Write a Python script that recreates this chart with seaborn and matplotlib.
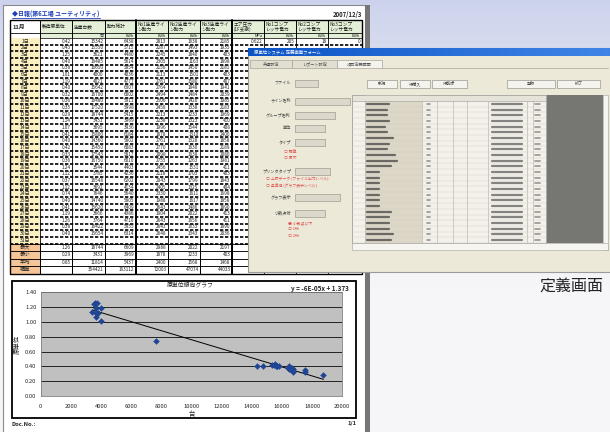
import numpy as np
import pandas as pd
import matplotlib
matplotlib.use('Agg')
import matplotlib.pyplot as plt
import seaborn as sns
from matplotlib.patches import Rectangle

# ---- daily report data (November) ----
days = [f'{d}日' for d in range(1, 32)]
gentan = [0.42, 0.43, 1.25, 0.40, 0.38, 1.01, 1.19, 0.40, 0.32, 0.36, 0.35, 0.29, 1.14, 1.07, 0.41, 0.40,
          0.42, 0.33, 0.36, 1.24, 1.12, 0.37, 1.12, 0.74, 0.40, 0.41, 1.19, 1.26, 0.38, 0.40, None]
daisu = [15342, 15550, 3621, 16485, 16650, 4000, 4021, 15642, 16700, 16480, 17520, 18744, 3431, 3695, 15800, 14360,
         15450, 17543, 16750, 3544, 3785, 16548, 3692, 7646, 14740, 15620, 3666, 3764, 16422, 15654, None]
douryoku = [6438, 5715, 4480, 5614, 5854, 4036, 4777, 6307, 6002, 5911, 5998, 5415, 3969, 3936, 6184, 5802,
            6083, 5817, 6010, 4403, 4236, 6202, 4134, 5640, 5805, 6409, 4386, 4710, 5955, 6314, None]
line1 = [2813, 2287, 2245, 2305, 2156, 2113, 2761, 2764, 2494, 2506, 2458, 2213, 2238, 1996, 1878, 2761,
         2770, 2098, 2755, 2456, 2118, 2943, 2405, 2330, 1988, 2643, 1904, 2643, 2643, 2648, None]
line2 = [1638, 1493, 1840, 1163, 1450, 1501, 1580, 1848, 1484, 1420, 1338, 1233, 1323, 1544, 1310, 1328,
         1630, 1638, 1263, 1531, 1703, 1799, 1325, 1611, 1617, 1486, 2022, 1656, 1633, 1343, None]
line3 = [2185, 1935, 403, 1898, 2181, 403, 407, 1941, 2039, 1985, 2183, 1969, 410, 408, 2400, 1858,
         2189, 2080, 1981, 411, 403, 1843, 404, 1698, 1858, 1890, 413, 411, 1890, 2036, None]
# columns mostly hidden behind the dialog, only first row visible
extra_first_row = ['0.622', '205', '18', '0']

summary_labels = ['最大', '最小', '平均', '積算']
summary_vals = [['1.26', '18744', '6609', '2988', '2022', '2197'],
                ['0.29', '3431', '3969', '1878', '1233', '403'],
                ['0.85', '11814', '5437', '2400', '1568', '1468'],
                ['', '354421', '163112', '72003', '47074', '44033']]

headers = ['11月', '製造原単位', '生産台数', '動力総計', 'No1生産ライ\nン動力', 'No2生産ライ\nン動力',
           'No3生産ライ\nン動力', 'エア圧力\n(1F支援)', 'No1コンプ\nレッサ電力', 'No2コンプ\nレッサ電力', 'No3コンプ\nレッサ電力']
units = ['', '', '台', 'kWh', 'kWh', 'kWh', 'kWh', 'MPa', 'kWh', 'kWh', 'kWh']

eq_text = 'y = -6E-05x + 1.373'

sns.set_style('white')
plt.rcParams['font.family'] = ['Noto Sans CJK JP', 'DejaVu Sans']

fig = plt.figure(figsize=(6.1, 4.32), dpi=100)
bg = fig.add_axes([0, 0, 1, 1])
bg.set_xlim(0, 610)
bg.set_ylim(432, 0)
bg.axis('off')

# background gradient
grad = np.linspace(0, 1, 200).reshape(-1, 1)
top = np.array([0.80, 0.825, 0.925])
bot = np.array([0.965, 0.965, 0.975])
img = top + (bot - top) * np.clip(grad * 1.5, 0, 1)[:, :, None] ** 0.8
bg.imshow(img.reshape(200, 1, 3), extent=(0, 610, 432, 0), aspect='auto', zorder=0)

# page
bg.add_patch(Rectangle((3, 5), 362, 430, fc='white', ec='#8a8a8a', lw=0.8, zorder=1))
bg.add_patch(Rectangle((365, 5), 5, 430, fc='#767676', ec='none', zorder=1))
bg.text(12, 14, '◆日報(第6工場 ユーティリティ)', fontsize=4.3, color='#1f3fb8', fontweight='bold', va='center', zorder=2)
bg.plot([12, 100], [17.5, 17.5], color='#1f3fb8', lw=0.6, zorder=2)
bg.text(362, 14, '2007/12/3', fontsize=4.3, fontweight='bold', ha='right', va='center', zorder=2)

# table
cx = [10, 40, 72, 105, 136, 168, 200, 232, 264, 296, 328, 362]
h_top, h_mid, h_bot = 20, 33, 38
row_h = 6.63
sum_top = h_bot + 31 * row_h
sum_h = 7.5
for i in range(len(cx) - 1):
    fc = 'white' if i == 0 else '#e4efd7'
    bg.add_patch(Rectangle((cx[i], h_top), cx[i + 1] - cx[i], h_mid - h_top, fc=fc, ec='black', lw=0.5, zorder=2))
    bg.add_patch(Rectangle((cx[i], h_mid), cx[i + 1] - cx[i], h_bot - h_mid, fc=fc, ec='black', lw=0.5, zorder=2))
    if i == 0:
        bg.text(13, 27, headers[i], fontsize=4.2, fontweight='bold', va='center', zorder=3)
    else:
        bg.text(cx[i] + 1.5, 26.5, headers[i], fontsize=3.4, va='center', linespacing=1.0, zorder=3)
        bg.text(cx[i + 1] - 1.5, 35.7, units[i], fontsize=3.0, ha='right', va='center', zorder=3)

bg.add_patch(Rectangle((cx[0], h_bot), cx[1] - cx[0], 31 * row_h, fc='#fbf0c1', ec='none', zorder=2))
cols = [gentan, daisu, douryoku, line1, line2, line3]
for r in range(31):
    yc = h_bot + (r + 0.5) * row_h
    bg.text((cx[0] + cx[1]) / 2, yc, days[r], fontsize=3.6, ha='center', va='center', zorder=3)
    for j, col in enumerate(cols):
        v = col[r]
        if v is None:
            continue
        s = f'{v:.2f}' if j == 0 else f'{v:d}'
        bg.text(cx[j + 2] - 1.5, yc, s, fontsize=3.4, ha='right', va='center', zorder=3)
    if r == 0:
        for j, s in enumerate(extra_first_row):
            bg.text(cx[j + 8] - 1.5, yc, s, fontsize=3.4, ha='right', va='center', zorder=3)
    ylin = h_bot + (r + 1) * row_h
    bg.plot([cx[0], cx[-1]], [ylin, ylin], color='black', lw=1.2, ls=(0, (2, 1)), zorder=3)

for k, lab in enumerate(summary_labels):
    y0 = sum_top + k * sum_h
    bg.add_patch(Rectangle((cx[0], y0), cx[1] - cx[0], sum_h, fc='#f6c597', ec='black', lw=0.6, zorder=2))
    bg.text((cx[0] + cx[1]) / 2, y0 + sum_h / 2, lab, fontsize=3.8, ha='center', va='center', zorder=3)
    for j, s in enumerate(summary_vals[k]):
        bg.add_patch(Rectangle((cx[j + 1], y0), cx[j + 2] - cx[j + 1], sum_h, fc='white', ec='black', lw=0.6, zorder=2))
        bg.text(cx[j + 2] - 1.5, y0 + sum_h / 2, s, fontsize=3.4, ha='right', va='center', zorder=3)
    bg.add_patch(Rectangle((cx[7], y0), cx[-1] - cx[7], sum_h, fc='white', ec='black', lw=0.6, zorder=2))

for i, x in enumerate(cx):
    lw = 1.4 if x in (136, 232) else 0.6
    bg.plot([x, x], [h_top, sum_top + 4 * sum_h], color='black', lw=lw, zorder=3)
bg.add_patch(Rectangle((cx[0], h_top), cx[-1] - cx[0], sum_top + 4 * sum_h - h_top, fc='none', ec='black', lw=1.0, zorder=3))

# ---- dialog window (definition screen) ----
z = 10
bg.add_patch(Rectangle((248, 48), 370, 224, fc='#ece9d8', ec='#9a9a9a', lw=0.8, zorder=z))
tb = np.linspace(0, 1, 50).reshape(1, -1)
bar = np.array([0.05, 0.33, 0.78]) + (np.array([0.25, 0.52, 0.90]) - np.array([0.05, 0.33, 0.78])) * tb[:, :, None]
bg.imshow(bar, extent=(248, 610, 56, 48), aspect='auto', zorder=z + 1)
bg.text(254, 52, '原単位システム 定義画面フォーム', fontsize=3.2, color='white', va='center', zorder=z + 2)
tabs = [(250, 292, '共通設定'), (292, 337, 'レポート設定'), (337, 382, '項目定義画面')]
for x0, x1, t in tabs:
    fc = '#f4f3ee' if t == '項目定義画面' else '#e2dfd0'
    bg.add_patch(Rectangle((x0, 60), x1 - x0, 8, fc=fc, ec='#a8a59a', lw=0.5, zorder=z + 1))
    bg.text((x0 + x1) / 2, 64, t, fontsize=3.0, color='#555555', ha='center', va='center', zorder=z + 2)
bg.plot([382, 608], [68, 68], color='#a8a59a', lw=0.5, zorder=z + 1)
for x0, x1, t in [(367, 397, '新規'), (400, 430, '行挿入'), (432, 467, '行削除'), (507, 555, '登録'), (557, 600, '終了')]:
    bg.add_patch(Rectangle((x0, 80), x1 - x0, 8, fc='#f4f3ee', ec='#9a9890', lw=0.5, zorder=z + 1))
    bg.text((x0 + x1) / 2, 84, t, fontsize=3.0, color='#444444', ha='center', va='center', zorder=z + 2)

fields = [(83, 'ファイル', 23), (101, 'ライン名称', 55), (115, 'グループ名称', 40), (128, '単位', 30),
          (142, 'タイプ', 30), (171, 'プリンタタイプ', 35), (197, 'グラフ表示', 45), (213, '小数点桁', 30)]
for y, lab, w in fields:
    bg.text(291, y, lab, fontsize=3.0, color='#444444', ha='right', va='center', zorder=z + 2)
    bg.add_patch(Rectangle((295, y - 3.5), w, 7, fc='#dcd8cc', ec='#a09c90', lw=0.5, zorder=z + 1))
red_opts = [(284, 152, '○ 積算'), (284, 158, '○ 最大'), (266, 179, '○ 上限データ (ファイル出力レベル)'),
            (266, 186, '○ 基準値 (グラフ表示レベル)'), (288, 223, '● 小数点以下'), (288, 229, '○ 1桁'), (288, 236, '○ 2桁')]
for x, y, t in red_opts:
    bg.text(x, y, t, fontsize=2.8, color='#e05050', va='center', zorder=z + 2)

# list grid
lx0, lx1, ly0, ly1 = 352, 546, 95, 243
bg.add_patch(Rectangle((lx0, ly0), lx1 - lx0, ly1 - ly0, fc='#f3f1ea', ec='#8a8a8a', lw=0.5, zorder=z + 1))
bg.add_patch(Rectangle((365, ly0), 57, ly1 - ly0, fc='#ddd7c8', ec='none', zorder=z + 1))
gx = [352, 365, 422, 437, 453, 467, 488, 527, 533, 546]
for x in gx:
    bg.plot([x, x], [ly0, ly1], color='#b0aca0', lw=0.4, zorder=z + 2)
n_rows = 25
rh = (ly1 - ly0 - 6) / n_rows
bg.add_patch(Rectangle((lx0, ly0), lx1 - lx0, 6, fc='#e6e3d8', ec='#9a9a9a', lw=0.4, zorder=z + 2))
name_w = [22, 20, 20, 22, 18, 20, 26, 22, 20, 28, 30, 24, 12, 12, 12, 12, 12, 12, 12, 24, 22, 22, 22, 26, 24]
for r in range(n_rows):
    yc = ly0 + 6 + (r + 0.5) * rh
    bg.plot([lx0, lx1], [yc + rh / 2, yc + rh / 2], color='#cfcbbf', lw=0.3, zorder=z + 2)
    bg.plot([367, 367 + name_w[r]], [yc, yc], color='#3a3a3a', lw=1.6, alpha=0.7, zorder=z + 3)
    bg.plot([492, 522], [yc, yc], color='#3a3a3a', lw=1.6, alpha=0.6, zorder=z + 3)
    bg.plot([427, 430], [yc, yc], color='#3a3a3a', lw=1.2, alpha=0.5, zorder=z + 3)
    bg.plot([535, 540], [yc, yc], color='#3a3a3a', lw=1.2, alpha=0.5, zorder=z + 3)
bg.add_patch(Rectangle((547, ly0), 56, ly1 - ly0, fc='#767673', ec='none', zorder=z + 1))
bg.add_patch(Rectangle((603, ly0), 5, ly1 - ly0 + 7, fc='#f6f5f0', ec='#a0a0a0', lw=0.4, zorder=z + 1))
bg.add_patch(Rectangle((lx0, ly1), 256, 7, fc='#f6f5f0', ec='#a0a0a0', lw=0.4, zorder=z + 1))

bg.text(603, 286, '定義画面', fontsize=11.5, color='#222222', ha='right', va='center', zorder=z)

# ---- chart frame on the page ----
bg.add_patch(Rectangle((12, 280.5), 344, 137, fc='white', ec='black', lw=1.3, zorder=2))
bg.text(190, 285, '原単位傾向グラフ', fontsize=4.2, ha='center', va='center', zorder=3)
bg.text(349, 289, eq_text, fontsize=4.6, fontweight='bold', ha='right', va='center', zorder=3)
bg.text(12, 424, 'Doc.No.:', fontsize=4.2, fontweight='bold', va='center', zorder=3)
bg.text(357, 424, '1/1', fontsize=4.2, fontweight='bold', ha='right', va='center', zorder=3)

# ---- scatter with trendline ----
df = pd.DataFrame({'台': daisu, '原単位': gentan}).dropna()
ax = fig.add_axes([40.7 / 610, 36 / 432, 301.6 / 610, 103.7 / 432])
ax.set_facecolor('#c0c0c0')
sns.scatterplot(data=df, x='台', y='原単位', ax=ax, marker='D', s=9, color='#1f4594', edgecolor='#1f4594',
                linewidth=0.3, zorder=3)
k, b = np.polyfit(df['台'], df['原単位'], 1)
xs = np.array([df['台'].min(), df['台'].max()])
ax.plot(xs, k * xs + b, color='black', lw=0.7, zorder=2)
ax.set_xlim(0, 20000)
ax.set_ylim(0, 1.4)
ax.set_xticks(np.arange(0, 20001, 2000))
ax.set_yticks(np.arange(0, 1.41, 0.2))
ax.set_yticklabels([f'{v:.2f}' for v in np.arange(0, 1.41, 0.2)])
ax.yaxis.grid(True, color='#222222', lw=0.7)
ax.set_axisbelow(True)
ax.tick_params(labelsize=4.2, length=1.5, width=0.5, pad=1.5, direction='out')
ax.tick_params(axis='x', pad=4)
for s in ax.spines.values():
    s.set_color('#808080')
    s.set_linewidth(0.6)
ax.set_xlabel('台', fontsize=4.6, labelpad=1)
ax.set_ylabel('原単位', fontsize=4.6, labelpad=3)

fig.savefig('out.png', dpi=100)
